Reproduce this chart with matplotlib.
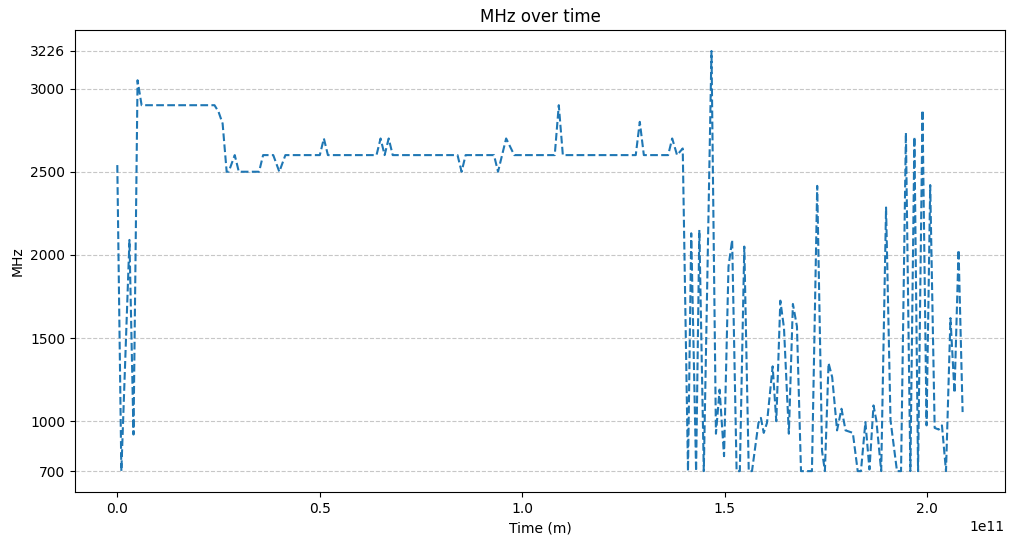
import matplotlib
matplotlib.use("Agg")
import matplotlib.pyplot as plt
import numpy as np

# time in units of 1e9
time_g = [0, 1, 3, 4, 5, 6, 24, 25, 26, 27, 27.5, 29, 30, 35, 36, 38.5, 40, 41.5,
          50, 51, 52, 64, 65, 66, 67, 68, 84, 85, 86, 93, 94, 96, 98,
          108, 109, 110, 128, 129, 130, 136, 137, 138.2, 139.6,
          140.9, 141.7, 142.9, 143.7, 144.8, 146.7, 147.8, 148.7, 149.8, 150.9, 151.8,
          152.9, 153.7, 154.8, 155.9, 156.7, 158.3, 158.9, 159.6, 160.4, 161.8, 162.7,
          163.7, 164.6, 165.8, 166.8, 167.8, 168.8, 171.5, 172.8, 174.0, 174.7, 175.6,
          176.5, 177.7, 178.8, 179.8, 181.6, 182.8, 183.6, 184.7, 185.7, 186.7, 187.4,
          188.6, 189.8, 190.9, 192.5, 193.5, 194.7, 195.8, 196.8, 197.7, 198.8, 199.8,
          200.7, 201.8, 202.8, 203.6, 204.6, 205.7, 206.7, 207.7, 208.7]
mhz = [2540, 700, 2090, 920, 3050, 2900, 2900, 2860, 2790, 2500, 2500, 2600, 2500, 2500, 2600, 2600, 2500, 2600,
       2600, 2700, 2600, 2600, 2700, 2600, 2700, 2600, 2600, 2500, 2600, 2600, 2500, 2700, 2600,
       2600, 2900, 2600, 2600, 2800, 2600, 2600, 2700, 2600, 2640,
       700, 2130, 700, 2150, 700, 3226, 925, 1190, 790, 1930, 2090,
       700, 700, 2050, 700, 700, 990, 1020, 930, 990, 1330, 1000,
       1725, 1560, 925, 1705, 1570, 700, 700, 2415, 820, 700, 1350,
       1265, 945, 1075, 945, 930, 700, 700, 995, 710, 1095, 1005,
       700, 2285, 1005, 700, 700, 2735, 700, 2710, 700, 2870, 975,
       2420, 960, 950, 975, 700, 1620, 1170, 2030, 1055]
y_ticks = [700, 1000, 1500, 2000, 2500, 3000, 3226]

t = np.array(time_g) * 1e9

fig, ax = plt.subplots(figsize=(10.14, 5.45), dpi=100)
fig.subplots_adjust(left=0.074, right=0.991, top=0.945, bottom=0.097)
ax.plot(t, mhz, linestyle='--', color='#1f77b4', linewidth=1.5)
ax.set_yticks(y_ticks)
ax.set_title("MHz over time")
ax.set_xlabel("Time (m)")
ax.set_ylabel("MHz")
ax.grid(axis='y', linestyle='--', alpha=0.7)
fig.savefig("out.png", dpi=100)
